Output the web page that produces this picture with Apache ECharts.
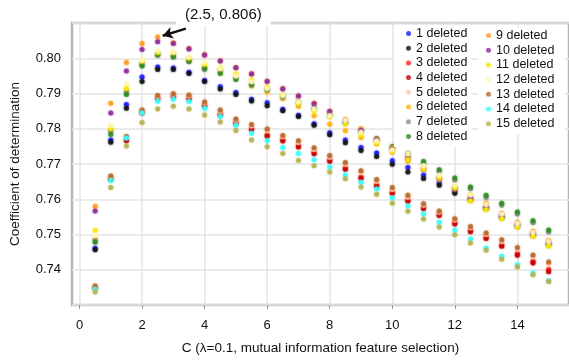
<!DOCTYPE html>
<html>
<head>
<meta charset="utf-8">
<script src="https://cdn.jsdelivr.net/npm/echarts@6/dist/echarts.min.js"></script>
<style>
  html, body { margin: 0; padding: 0; background: #fff; }
  #chart { width: 569px; height: 360px; }
</style>
</head>
<body>
<div id="chart"></div>
<script>
// C values (x axis)
var cValues = [0.5, 1, 1.5, 2, 2.5, 3, 3.5, 4, 4.5, 5, 5.5, 6, 6.5, 7, 7.5,
               8, 8.5, 9, 9.5, 10, 10.5, 11, 11.5, 12, 12.5, 13, 13.5, 14, 14.5, 15];

var xTicks = [0, 2, 4, 6, 8, 10, 12, 14];

// coefficient of determination
var del1  = [0.7461, 0.7768, 0.7869, 0.7947, 0.7975, 0.7972, 0.7960, 0.7937, 0.7919, 0.7903, 0.7884, 0.7874, 0.7855, 0.7838, 0.7814, 0.7789, 0.7768, 0.7747, 0.7731, 0.7709, 0.7690, 0.7669, 0.7647, 0.7622, 0.7600, 0.7576, 0.7550, 0.7526, 0.7500, 0.7474];
var del2  = [0.7457, 0.7762, 0.7858, 0.7934, 0.7968, 0.7968, 0.7957, 0.7934, 0.7913, 0.7897, 0.7879, 0.7865, 0.7851, 0.7835, 0.7810, 0.7783, 0.7760, 0.7738, 0.7721, 0.7699, 0.7677, 0.7659, 0.7640, 0.7617, 0.7598, 0.7573, 0.7548, 0.7523, 0.7497, 0.7470];
var del3  = [0.7350, 0.7659, 0.7769, 0.7848, 0.7888, 0.7893, 0.7888, 0.7868, 0.7842, 0.7818, 0.7801, 0.7783, 0.7769, 0.7752, 0.7733, 0.7712, 0.7689, 0.7663, 0.7641, 0.7620, 0.7598, 0.7577, 0.7558, 0.7534, 0.7512, 0.7493, 0.7471, 0.7446, 0.7424, 0.7401];
var del4  = [0.7348, 0.7656, 0.7766, 0.7845, 0.7885, 0.7890, 0.7884, 0.7864, 0.7838, 0.7814, 0.7797, 0.7779, 0.7765, 0.7748, 0.7729, 0.7708, 0.7685, 0.7659, 0.7637, 0.7616, 0.7594, 0.7573, 0.7554, 0.7530, 0.7508, 0.7489, 0.7467, 0.7441, 0.7419, 0.7394];
var del5  = [0.7352, 0.7663, 0.7776, 0.7850, 0.7891, 0.7897, 0.7893, 0.7873, 0.7849, 0.7824, 0.7808, 0.7794, 0.7777, 0.7761, 0.7741, 0.7719, 0.7699, 0.7676, 0.7651, 0.7628, 0.7606, 0.7583, 0.7563, 0.7541, 0.7519, 0.7500, 0.7480, 0.7458, 0.7437, 0.7417];
var del6  = [0.7488, 0.7798, 0.7910, 0.7986, 0.8010, 0.8010, 0.7995, 0.7975, 0.7960, 0.7945, 0.7921, 0.7904, 0.7885, 0.7863, 0.7837, 0.7813, 0.7794, 0.7775, 0.7757, 0.7733, 0.7708, 0.7684, 0.7656, 0.7629, 0.7600, 0.7575, 0.7550, 0.7524, 0.7498, 0.7472];
var del7  = [0.7483, 0.7792, 0.7903, 0.7982, 0.8008, 0.8003, 0.7990, 0.7968, 0.7966, 0.7945, 0.7924, 0.7912, 0.7890, 0.7872, 0.7855, 0.7836, 0.7815, 0.7792, 0.7768, 0.7746, 0.7725, 0.7702, 0.7678, 0.7654, 0.7630, 0.7605, 0.7583, 0.7558, 0.7533, 0.7507];
var del8  = [0.7478, 0.7784, 0.7897, 0.7978, 0.8011, 0.8005, 0.7992, 0.7971, 0.7957, 0.7940, 0.7926, 0.7912, 0.7893, 0.7876, 0.7858, 0.7840, 0.7818, 0.7794, 0.7772, 0.7750, 0.7730, 0.7707, 0.7684, 0.7660, 0.7635, 0.7611, 0.7589, 0.7564, 0.7539, 0.7513];
var del9  = [0.7580, 0.7872, 0.7988, 0.8042, 0.8060, 0.8044, 0.8028, 0.8010, 0.7993, 0.7974, 0.7956, 0.7935, 0.7914, 0.7893, 0.7872, 0.7850, 0.7826, 0.7800, 0.7770, 0.7746, 0.7720, 0.7691, 0.7663, 0.7637, 0.7612, 0.7589, 0.7560, 0.7535, 0.7509, 0.7483];
var del10 = [0.7567, 0.7845, 0.7964, 0.8025, 0.8047, 0.8042, 0.8026, 0.8009, 0.7992, 0.7973, 0.7955, 0.7934, 0.7913, 0.7893, 0.7871, 0.7849, 0.7822, 0.7795, 0.7768, 0.7742, 0.7715, 0.7686, 0.7658, 0.7630, 0.7604, 0.7579, 0.7553, 0.7529, 0.7503, 0.7478];
var del11 = [0.7512, 0.7801, 0.7915, 0.7992, 0.8016, 0.8016, 0.8001, 0.7983, 0.7972, 0.7955, 0.7938, 0.7918, 0.7896, 0.7872, 0.7851, 0.7834, 0.7813, 0.7783, 0.7762, 0.7738, 0.7712, 0.7686, 0.7660, 0.7632, 0.7595, 0.7570, 0.7545, 0.7521, 0.7495, 0.7467];
var del12 = [0.7497, 0.7810, 0.7928, 0.7995, 0.8022, 0.8018, 0.8004, 0.7988, 0.7970, 0.7950, 0.7933, 0.7914, 0.7894, 0.7876, 0.7856, 0.7837, 0.7824, 0.7790, 0.7765, 0.7740, 0.7729, 0.7695, 0.7668, 0.7640, 0.7612, 0.7585, 0.7558, 0.7532, 0.7506, 0.7480];
var del13 = [0.7354, 0.7666, 0.7778, 0.7853, 0.7894, 0.7899, 0.7896, 0.7876, 0.7853, 0.7828, 0.7812, 0.7799, 0.7781, 0.7766, 0.7746, 0.7724, 0.7704, 0.7681, 0.7656, 0.7633, 0.7611, 0.7587, 0.7567, 0.7545, 0.7523, 0.7504, 0.7485, 0.7463, 0.7442, 0.7422];
var del14 = [0.7345, 0.7653, 0.7774, 0.7845, 0.7878, 0.7884, 0.7877, 0.7858, 0.7835, 0.7810, 0.7787, 0.7766, 0.7747, 0.7730, 0.7712, 0.7691, 0.7669, 0.7648, 0.7629, 0.7604, 0.7581, 0.7558, 0.7535, 0.7512, 0.7487, 0.7462, 0.7438, 0.7415, 0.7391, 0.7369];
var del15 = [0.7337, 0.7633, 0.7751, 0.7818, 0.7856, 0.7864, 0.7856, 0.7839, 0.7819, 0.7795, 0.7768, 0.7749, 0.7730, 0.7710, 0.7695, 0.7677, 0.7658, 0.7635, 0.7614, 0.7589, 0.7566, 0.7544, 0.7521, 0.7499, 0.7476, 0.7455, 0.7430, 0.7408, 0.7386, 0.7367];

var seriesNames = ['1 deleted', '2 deleted', '3 deleted', '4 deleted', '5 deleted',
                   '6 deleted', '7 deleted', '8 deleted', '9 deleted', '10 deleted',
                   '11 deleted', '12 deleted', '13 deleted', '14 deleted', '15 deleted'];
var seriesValues = [del1, del2, del3, del4, del5, del6, del7, del8, del9, del10,
                    del11, del12, del13, del14, del15];

// max point annotation
var peakPoint = [2.5, 0.806];

var colors = ['#1a1aff', '#111111', '#ff2020', '#c00000', '#ffc8a8',
              '#ffb300', '#8c8c8c', '#2e8b22', '#ff9a1f', '#8e2a9e',
              '#f5ea00', '#fff6b8', '#b8682a', '#33ffff', '#b5b050'];

var font = 'Liberation Sans, Arial, sans-serif';

var dom = document.getElementById('chart');
var chart = echarts.init(dom);

var series = [];
for (var i = 0; i < seriesValues.length; i++) {
    var pts = [];
    for (var j = 0; j < cValues.length; j++) {
        pts.push([cValues[j], seriesValues[i][j]]);
    }
    var s = {
        name: seriesNames[i],
        type: 'scatter',
        data: pts,
        symbolSize: 5,
        itemStyle: {
            color: colors[i],
            shadowBlur: 2,
            shadowColor: colors[i]
        },
        emphasis: { disabled: true }
    };
    if (i == 8) {
        s.markLine = {
            silent: true,
            symbol: ['none', 'arrow'],
            symbolSize: [9, 10],
            lineStyle: { color: '#111', width: 2.5, type: 'solid' },
            label: { show: false },
            data: [[
                { coord: [3.4, 0.8084] },
                { coord: [2.66, 0.8064] }
            ]]
        };
    }
    series.push(s);
}

var option = {
    backgroundColor: '#fff',
    animation: false,
    textStyle: { fontFamily: font },
    color: colors,
    title: {
        text: '(' + peakPoint[0] + ', ' + peakPoint[1] + ')',
        left: 176,
        top: 4,
        z: 10,
        backgroundColor: '#fff',
        padding: [3, 9, 4, 9],
        textStyle: { fontFamily: font, fontSize: 15, fontWeight: 'normal', color: '#111' }
    },
    legend: [{
        data: seriesNames.slice(0, 8),
        orient: 'vertical',
        left: 394,
        top: 25,
        padding: [2, 4, 4, 12],
        itemGap: 1.7,
        itemWidth: 5,
        itemHeight: 5,
        icon: 'circle',
        backgroundColor: '#fff',
        z: 5,
        textStyle: { fontFamily: font, fontSize: 12.5, color: '#111', padding: [0, 0, 0, 0] },
        selectedMode: false
    }, {
        data: seriesNames.slice(8),
        orient: 'vertical',
        left: 478,
        top: 27,
        padding: [2, 10, 4, 8],
        itemGap: 1.7,
        itemWidth: 5,
        itemHeight: 5,
        icon: 'circle',
        backgroundColor: '#fff',
        z: 5,
        textStyle: { fontFamily: font, fontSize: 12.5, color: '#111', padding: [0, 0, 0, 0] },
        selectedMode: false
    }],
    grid: {
        left: 67,
        right: 0,
        top: 23,
        bottom: 54,
        show: true,
        borderColor: '#b4b4b4',
        borderWidth: 2.5,
        containLabel: false
    },
    xAxis: {
        type: 'value',
        min: -0.24,
        max: 15.65,
        name: 'C (\u03bb=0.1, mutual information feature selection)',
        nameLocation: 'middle',
        nameGap: 36,
        nameTextStyle: { fontFamily: font, fontSize: 13.5, color: '#111' },
        axisLine: { show: false },
        axisTick: { show: true, customValues: xTicks, length: 4, inside: false, lineStyle: { color: '#999' } },
        axisLabel: { customValues: xTicks, fontFamily: font, fontSize: 13, color: '#111', margin: 14 },
        splitLine: { show: true, lineStyle: { color: '#e4e4e4', width: 1.5 } }
    },
    yAxis: {
        type: 'value',
        min: 0.73,
        max: 0.81,
        interval: 0.01,
        name: 'Coefficient of determination',
        nameLocation: 'middle',
        nameGap: 50,
        nameTextStyle: { fontFamily: font, fontSize: 13.5, color: '#111' },
        axisLine: { show: false },
        axisTick: { show: false },
        axisLabel: {
            fontFamily: font,
            fontSize: 13,
            color: '#111',
            margin: 11,
            formatter: function (v) {
                var r = Math.round(v * 100) / 100;
                if (r >= 0.81 || r <= 0.73) return '';
                return r.toFixed(2);
            }
        },
        splitLine: { show: true, lineStyle: { color: '#e4e4e4', width: 1.5 } }
    },
    series: series
};

chart.setOption(option);
window.addEventListener('resize', function (e) {
    chart.resize();
});
</script>
</body>
</html>
